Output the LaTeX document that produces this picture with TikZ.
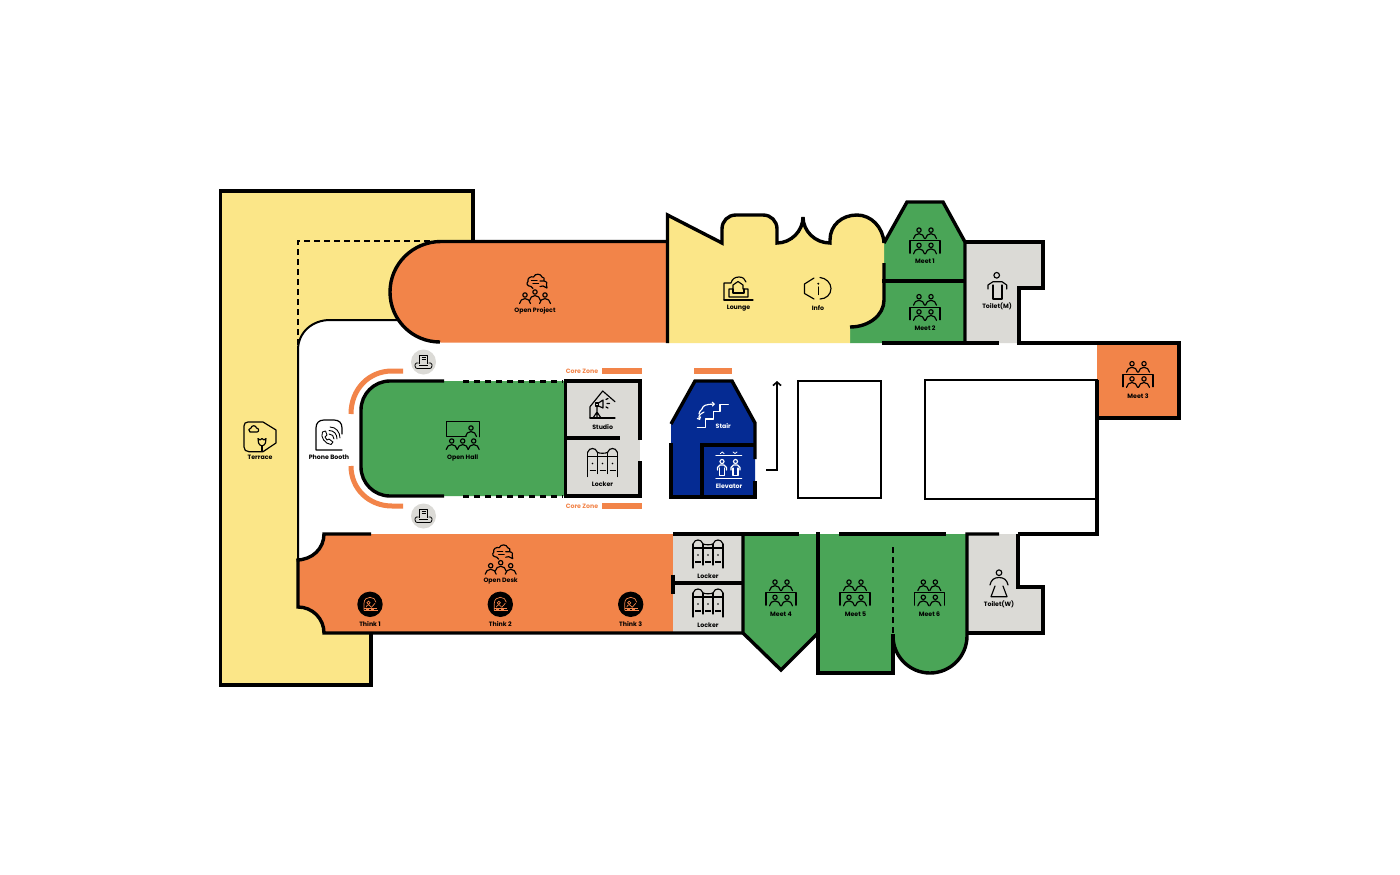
\documentclass[tikz,border=0pt]{standalone}
\usepackage{fontspec}
\setmainfont{Poppins}
\usetikzlibrary{arrows.meta}
\definecolor{cyel}{HTML}{FBE688}
\definecolor{cora}{HTML}{F28449}
\definecolor{cgrn}{HTML}{4AA557}
\definecolor{cgry}{HTML}{DBDAD6}
\definecolor{cblu}{HTML}{052B93}
\tikzset{
  wall/.style={draw=black,line width=3.4pt,line cap=butt,line join=miter,miter limit=2.2},
  thinwall/.style={draw=black,line width=2pt},
  ico/.style={line width=1.15pt,line cap=round,line join=round},
  lbl/.style={font=\bfseries\fontsize{6.25}{7.5}\selectfont,inner sep=0pt,text=black},
  lblw/.style={lbl,text=white},
  lblo/.style={lbl,text=cora},
  person/.pic={
    \draw[ico] (0,0) circle (2.2pt);
    \draw[ico] (-5.5,8.5) .. controls (-4.8,5.5) and (-3,3.6) .. (0,3.6) .. controls (3,3.6) and (4.8,5.5) .. (5.5,8.5);
  },
  meeticon/.pic={
    \pic at (-6,-10.6) {person};
    \pic at (6,-10.6) {person};
    \pic at (-6,4.6) {person};
    \pic at (6,4.6) {person};
    \draw[ico] (-15,12.5) -- (-15,0) -- (15,0) -- (15,12.5);
  },
  crowd/.pic={
    \pic at (-10,3) {person};
    \pic at (0,0) {person};
    \pic at (10,3) {person};
    \draw[ico] (-2,-3.5) -- (-4,-5.5) .. controls (-8,-6) and (-9,-8.5) .. (-7,-10.5) .. controls (-8,-14) and (-4,-16) .. (-1.5,-15) .. controls (0,-19) and (6,-18.5) .. (7,-15) .. controls (9,-15) and (10,-13) .. (9,-11.5);
    \draw[ico] (-3.5,-11.5) -- (2,-11.5) (-2,-8.5) -- (3.5,-8.5);
    \draw[ico] (5,-11) -- (9,-11) .. controls (12,-10.5) and (12.5,-8.5) .. (11.5,-7) -- (12,-4) -- (8,-6) -- (5,-5.5);
  },
  lockericon/.pic={
    \draw[ico] (-15,4) .. controls (-14,1) and (-12,0) .. (-10,0) .. controls (-8,0) and (-6,1) .. (-5,4)
      .. controls (-3,5) and (3,5) .. (5,4) .. controls (6,1) and (8,0) .. (10,0) .. controls (12,0) and (14,1) .. (15,4);
    \draw[ico] (-15,4) -- (-15,28) (-5,4) -- (-5,25) (5,4) -- (5,25) (15,4) -- (15,28);
    \draw[ico] (-15,8) -- (15,8);
    \draw[line width=1.5pt] (-13,22) -- (-7,22) (-3,22) -- (3,22) (7,22) -- (13,22);
    \fill (-10,15) circle (0.9pt) (0,15) circle (0.9pt) (10,15) circle (0.9pt);
  },
  printer/.pic={
    \fill[cgry] (0,0) circle (12.5pt);
    \draw[line width=0.8pt,line join=round] (-3.8,1.5) -- (-3.8,-7) -- (3.8,-7) -- (3.8,1.5);
    \draw[line width=0.6pt] (-2,-4.5) -- (2,-4.5) (-2,-2.5) -- (2,-2.5);
    \draw[line width=0.8pt,line join=round] (-5,1) -- (-7,1) .. controls (-8,1) and (-9,3) .. (-8.5,4) .. controls (-8,6) and (-7.5,6.5) .. (-6,6.5) -- (6,6.5) .. controls (7.5,6.5) and (8,6) .. (8.5,4) .. controls (9,3) and (8,1) .. (7,1) -- (5,1);
    \draw[line width=0.8pt] (-4.5,3.5) -- (4.5,3.5);
  },
  thinkicon/.pic={
    \fill[black] (0,0) circle (12.7pt);
    \begin{scope}[cora,line width=0.7pt]
      \draw (-6,6) -- (-6,-1) .. controls (-6,-5) and (-3,-7) .. (0,-7) .. controls (3,-7) and (6,-5) .. (6,-2);
      \draw (-1.5,-1.5) circle (1.6pt);
      \draw (-4,3) .. controls (-3.5,1) and (-2.5,0.5) .. (-1,0.5) .. controls (0,1) and (1,2) .. (1.5,3);
      \draw (1.5,3) -- (5,-1);
      \draw (-6,4) -- (7,4) (-6,6.5) -- (8,6.5);
      \draw[line width=1pt] (-4,5.2) -- (-1,5.2) (1,5.2) -- (4,5.2);
    \end{scope}
  }
}
\begin{document}
\begin{tikzpicture}[x=1pt,y=-1pt]
\useasboundingbox (0,0) rectangle (1400,875);
\fill[white] (0,0) rectangle (1400,875);

% Terrace
\fill[cyel] (220.5,191) -- (473,191) -- (473,320) -- (330,320) .. controls (312.3,320) and (298,332.3) .. (298,350)
  -- (298,607) .. controls (312.4,607) and (324,618.6) .. (324,633) -- (371,633) -- (371,685) -- (220.5,685) -- cycle;
\draw[wall] (473,243) -- (473,191) -- (220.5,191) -- (220.5,685) -- (371,685) -- (371,633);
\draw[line width=1.8pt,dash pattern=on 6pt off 4pt] (298,345) -- (298,241) -- (432,241);
\draw[thinwall] (397,320) -- (330,320) .. controls (312.3,320) and (298,332.3) .. (298,350) -- (298,562);

% Open Project
\fill[cora] (667,241.5) -- (441,241.5) .. controls (412.8,241.5) and (390,264.1) .. (390,292) .. controls (390,319.9) and (412.8,342.5) .. (441,342.5) -- (667,342.5) -- cycle;
\draw[wall] (440,342) .. controls (412.3,342) and (390,319.9) .. (390,292) .. controls (390,264.1) and (412.8,241.5) .. (441,241.5) -- (667,241.5);

% Open Desk
\fill[cora] (324,534) .. controls (324,548.4) and (312.4,560) .. (298,560) -- (298,607) .. controls (312.4,607) and (324,618.6) .. (324,633) -- (673,633) -- (673,534) -- cycle;
\fill[cgry] (673,534) rectangle (743,633);
\draw[wall] (371,534) -- (324,534) .. controls (324,548.4) and (312.4,560) .. (296.5,560);
\draw[wall] (298,559) -- (298,607) .. controls (312.4,607) and (324,618.6) .. (324,633) -- (743,633);
\draw[wall] (673,583) -- (743,583) (673,574.5) -- (673,593.5);

% Lounge
\fill[cgrn] (850,327) .. controls (869,327) and (884,315) .. (884,300) -- (884,243) -- (907,202) -- (943,202) -- (965,242) -- (965,343) -- (850,343) -- cycle;
\fill[cyel] (667.5,343) -- (667.5,215) -- (722,243) -- (722,229) .. controls (722,221) and (728,215) .. (736,215) -- (763,215) .. controls (771,215) and (777,221) .. (777,229) -- (777,243)
  .. controls (791,243) and (803,231) .. (803,217) .. controls (803,231) and (815,243) .. (830,243) -- (830,240) .. controls (830,225) and (842,215) .. (857,215) .. controls (871,215) and (883,227) .. (884,243)
  -- (884,300) .. controls (884,315) and (869,327) .. (850,327) -- (850,343) -- cycle;
\draw[wall] (667.5,343) -- (667.5,215) -- (722,243) -- (722,229) .. controls (722,221) and (728,215) .. (736,215) -- (763,215) .. controls (771,215) and (777,221) .. (777,229) -- (777,243)
  .. controls (791,243) and (803,231) .. (803,217) .. controls (803,231) and (815,243) .. (830,243) -- (830,240) .. controls (830,225) and (842,215) .. (857,215) .. controls (871,215) and (883,227) .. (884,243);
\draw[wall] (884,263) -- (884,300) .. controls (884,315) and (869,327) .. (850,327);

% Meet 1, 2
\draw[wall] (884,243) -- (907,202) -- (943,202) -- (965,242) -- (965,343);
\draw[wall] (882,281) -- (965,281);
\fill[cgry] (967,243) -- (1043,243) -- (1043,288) -- (1019,288) -- (1019,343) -- (967,343) -- cycle;
\draw[wall] (965,242) -- (1043,242) -- (1043,288) -- (1019,288) -- (1019,343) -- (1097,343);
\draw[wall] (882,343) -- (999,343);

% Meet 3
\fill[cora] (1097,343) rectangle (1179,418);
\draw[wall] (1097,343) -- (1179,343) -- (1179,418) -- (1095,418);

% Voids
\draw[thinwall] (925,380) rectangle (1097,498.5);
\draw[thinwall] (798,381) rectangle (881,498);
\draw[wall] (1097,380) -- (1097,534) -- (1018,534);

% Meet 4, 5, 6, Toilet W
\fill[cgry] (967,534) -- (1018,534) -- (1018,587) -- (1043,587) -- (1043,633) -- (967,633) -- cycle;
\draw[wall] (1018,534) -- (1018,587) -- (1043,587) -- (1043,633) -- (967,633);
\fill[cgrn] (743,534) -- (818,534) -- (818,633) -- (781,670) -- (743,633) -- cycle;
\fill[cgrn] (818,534) -- (967,534) -- (967,636) .. controls (967,656.4) and (950.4,673) .. (930,673) .. controls (909.6,673) and (893,656.4) .. (893,636) -- (893,673) -- (818,673) -- cycle;
\draw[wall] (673,534) -- (799,534);
\draw[wall] (743,534) -- (743,633) -- (781,670) -- (818,633);
\draw[wall] (818,532) -- (818,673) -- (893,673) -- (893,634);
\draw[wall] (839,534) -- (946,534);
\draw[wall] (999,534) -- (967,534) -- (967,636) .. controls (967,656.4) and (950.4,673) .. (930,673) .. controls (909.6,673) and (893,656.4) .. (893,636);
\draw[line width=1.8pt,dash pattern=on 6pt off 4pt] (893,547) -- (893,634);

% Open Hall
\fill[cgrn] (565,381) -- (390,381) .. controls (374,381) and (361,394) .. (361,410) -- (361,467) .. controls (361,483) and (374,496) .. (390,496) -- (565,496) -- cycle;
\draw[wall] (444,381) -- (390,381) .. controls (374,381) and (361,394) .. (361,410) -- (361,467) .. controls (361,483) and (374,496) .. (390,496) -- (444,496);
\draw[line width=3pt,dash pattern=on 6pt off 5pt] (463,381) -- (563,381) (463,496) -- (563,496);
\draw[cora,line width=5pt] (403,371) -- (392,371) .. controls (369,371) and (351,389) .. (351,414);
\draw[cora,line width=5pt] (403,506) -- (392,506) .. controls (369,506) and (351,489) .. (351,466);

% Studio / Locker
\fill[cgry] (565,381) rectangle (640,496);
\draw[wall] (640,440) -- (640,381) -- (565.5,381) -- (565.5,496) -- (640,496) -- (640,461);
\draw[wall] (565,438) -- (620,438);

% Core zone bars
\fill[cora] (602,368) rectangle (642,374);
\fill[cora] (602,503) rectangle (642,509);
\fill[cora] (694,368) rectangle (732,374);
\node[lblo] (cz1) at (582,371) {Core Zone};
\node[lblo] (cz2) at (582,506) {Core Zone};

% Stair
\fill[cblu] (671,423) -- (695,381) -- (732,381) -- (755,423) -- (755,497) -- (671,497) -- cycle;
\draw[wall] (671,424) -- (695,381) -- (732,381) -- (755,423) -- (755,459);
\draw[wall] (755,481) -- (755,497) -- (671,497) -- (671,443);
\draw[wall] (702,497) -- (702,445) -- (755,445);

% Ramp arrow
\coordinate (rampa) at (766,470);
\coordinate (rampb) at (777,470);
\coordinate (rampc) at (777,381);
\draw[line width=1.6pt,-{Straight Barb[length=3.5pt,width=8pt]}] (rampa) -- (rampb) -- (rampc);

% Printers
\pic at (423.5,362) {printer};
\pic at (423.5,516) {printer};

% Meeting icons
\pic at (925,240.7) {meeticon};
\pic at (925,307.3) {meeticon};
\pic at (1138,374.3) {meeticon};
\pic at (781,592.7) {meeticon};
\pic at (855,592.7) {meeticon};
\pic at (929.3,592.7) {meeticon};
\node[lbl] (m1) at (925,261) {Meet 1};
\node[lbl] (m2) at (925,328) {Meet 2};
\node[lbl] (m3) at (1138,396) {Meet 3};
\node[lbl] (m4) at (781,614) {Meet 4};
\node[lbl] (m5) at (855.5,614) {Meet 5};
\node[lbl] (m6) at (929.5,614) {Meet 6};

% Crowd icons
\pic at (535,292) {crowd};
\pic at (500.7,562.7) {crowd};
\node[lbl] (op) at (535,311) {Open Project};
\node[lbl] (od) at (500.7,581.5) {Open Desk};

% Think
\pic at (370,604.3) {thinkicon};
\pic at (500.3,604.3) {thinkicon};
\pic at (630.7,604.3) {thinkicon};
\node[lbl] (t1) at (370,624) {Think 1};
\node[lbl] (t2) at (500.3,624) {Think 2};
\node[lbl] (t3) at (630.7,624) {Think 3};

% Lockers
\pic at (602.5,448.5) {lockericon};
\pic at (708,540) {lockericon};
\pic at (708,589) {lockericon};
\node[lbl] (l1) at (602.5,484.5) {Locker};
\node[lbl] (l2) at (708,576) {Locker};
\node[lbl] (l3) at (708,625) {Locker};

% Open Hall icon
\draw[ico,line width=1.2pt] (466,436.7) -- (446.7,436.7) -- (446.7,421.7) -- (479.3,421.7) -- (479.3,436.7);
\pic at (471,428) {person};
\pic at (451.7,441) {person};
\pic at (462.7,441) {person};
\pic at (473.7,441) {person};
\node[lbl] (oh) at (462.7,458) {Open Hall};

% Phone booth
\draw[ico,line width=1.2pt] (342,450) -- (316,450) -- (316,428) .. controls (316,423) and (319,420) .. (324,420) -- (334,420) .. controls (339,420) and (342,423) .. (342,428) -- (342,434);
\draw[ico,line width=0.9pt] (322.5,432) .. controls (320,437) and (325,444) .. (331,444.5) -- (333,442) -- (329,439) -- (327,440) -- (325,437) -- (327,435) -- (325.5,431) -- cycle;
\draw[ico,line width=0.9pt] (329,434) .. controls (332,434) and (334,436) .. (334,439);
\draw[ico,line width=0.9pt] (329,430.5) .. controls (334,430.5) and (337,434) .. (337,439);
\draw[ico,line width=0.9pt] (330,427) .. controls (336,427) and (340,432) .. (340,438);
\node[lbl] (pb) at (329,457.7) {Phone Booth};

% Terrace icon
\draw[ico,line width=1.2pt] (263,422) -- (248,422) .. controls (245.5,422) and (244,423.5) .. (244,426) -- (244,447) .. controls (244,450) and (246,451.7) .. (249,451.7) -- (263,451.7) -- (276,443) -- (276,430) -- cycle;
\draw[ico] (250,432) .. controls (248,431) and (248.5,428) .. (251,428) .. controls (251.5,425) and (256,425) .. (256.5,428) .. controls (259,428) and (259.5,432) .. (257,432) -- cycle;
\draw[ico] (262,446) -- (262,451);
\draw[ico] (262,446) .. controls (258,445) and (258,441) .. (258,438.5) -- (260,440) -- (262,438.5) -- (264,440) -- (266,438.5) .. controls (266,441) and (266,445) .. (262,446);
\node[lbl] (tr) at (260,457.7) {Terrace};

% Lounge icon
\draw[ico] (724,300) -- (724,283) -- (731,283) .. controls (732,279) and (735,277) .. (739,277) .. controls (743,277) and (745,279) .. (746,282);
\draw[ico] (724,300) -- (753,300);
\draw[ico] (729,297) -- (729,289) -- (733,289) -- (733,285) -- (738,281.5) -- (743,285) -- (743,289) -- (748,289) -- (748,297) -- cycle;
\draw[ico] (733,293) -- (744,293) (733,289) -- (733,293) (744,289) -- (744,293);
\node[lbl] (lo) at (738.5,308) {Lounge};

% Info icon
\draw[ico] (814,278) -- (804.5,284) -- (804.5,293.5) -- (814,299);
\draw[ico] (820,277.5) .. controls (826,278) and (831,283) .. (831,288.5) .. controls (831,294.5) and (826,299) .. (820,299);
\fill (818.3,283.7) circle (1.1pt);
\draw[ico] (818.3,287) -- (818.3,294.5);
\node[lbl] (in) at (818,308) {Info};

% Toilet M
\draw[ico] (996.7,275.3) circle (2.8pt);
\draw[ico] (988,289) -- (988,285) -- (993,281.7) -- (1002,281.7) -- (1006.7,285) -- (1006.7,289);
\draw[ico] (993,285) -- (993,299) -- (1002,299) -- (1002,285);
\node[lbl] (tm) at (997,306.7) {Toilet(M)};

% Toilet W
\draw[ico] (999,572.7) circle (2.8pt);
\draw[ico] (990,585) .. controls (991,580) and (994,577.5) .. (999,577.5) .. controls (1004,577.5) and (1007,580) .. (1008,585);
\draw[ico] (995,586) -- (991,596.7) -- (1007,596.7) -- (1003,586);
\node[lbl] (tw) at (999,604.7) {Toilet(W)};

% Studio icon
\draw[ico] (590,418) -- (590,406.7) -- (602.7,391) -- (615,401.7);
\draw[ico] (590,418) -- (615,418);
\draw[ico] (595.5,403) rectangle (598.5,406);
\draw[ico] (598.5,403) -- (603,400) -- (603,408) -- (598.5,406);
\draw[ico] (597,406) -- (597,412) -- (593,418) (597,412) -- (601,418) (597,412) -- (597,418);
\draw[ico] (606,399.5) -- (608,398.5) (607,403.5) -- (609.5,403.5) (606,407) -- (608,408);
\node[lbl] (st) at (602.7,427.3) {Studio};

% Stair icon
\begin{scope}[color=white]
\draw[ico] (697.3,427.3) -- (705.7,427.3) -- (705.7,419) -- (713.3,419) -- (713.3,411.7) -- (720,411.7) -- (720,404.3) -- (728.3,404.3);
\draw[ico,-{Straight Barb[length=2pt,width=4pt]}] (699,414) .. controls (698,412) and (701,411) .. (702,409) .. controls (703,405) and (706,404.5) .. (715,404);
\draw[ico,-{Straight Barb[length=2pt,width=4pt]}] (704,412) .. controls (700,414) and (698,416) .. (700,420);
\end{scope}
\node[lblw] (sl) at (723.3,425.7) {Stair};

% Elevator icon
\begin{scope}[color=white]
\draw[ico] (716,455.7) -- (741.7,455.7) (716,478.3) -- (741.7,478.3);
\draw[ico,line width=0.8pt] (720.5,453.5) -- (722.3,452) -- (724,453.5) (733,452) -- (735,453.5) -- (737,452);
\draw[ico] (722,461.5) circle (2pt) (735.5,461.5) circle (2pt);
\draw[ico] (717.5,470) -- (717.5,467.5) -- (720,465) -- (724,465) -- (726.5,467.5) -- (726.5,470);
\draw[ico] (719.5,468) -- (719.5,475.5) -- (724.5,475.5) -- (724.5,468);
\draw[ico] (731,470) -- (731,467.5) -- (733.5,465) -- (737.5,465) -- (740,467.5) -- (740,470);
\draw[ico] (733,468) -- (733,475.5) -- (738,475.5) -- (738,468);
\end{scope}
\node[lblw] (el) at (729,486.7) {Elevator};
\end{tikzpicture}
\end{document}
